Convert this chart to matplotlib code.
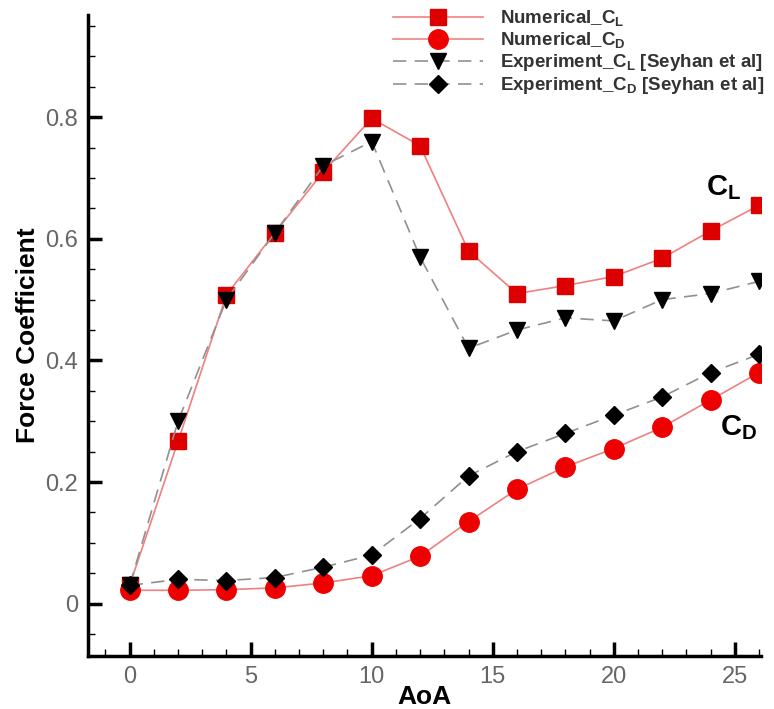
import matplotlib.pyplot as plt
import matplotlib.ticker as mticker

plt.rcParams['font.family'] = ['Liberation Sans', 'DejaVu Sans']
plt.rcParams['mathtext.fontset'] = 'custom'
plt.rcParams['mathtext.rm'] = 'Liberation Sans:bold'
plt.rcParams['mathtext.it'] = 'Liberation Sans:bold'
plt.rcParams['mathtext.bf'] = 'Liberation Sans:bold'

aoa = [0, 2, 4, 6, 8, 10, 12, 14, 16, 18, 20, 22, 24, 26]
num_cl = [0.03, 0.267, 0.508, 0.61, 0.71, 0.798, 0.753, 0.58, 0.51, 0.523, 0.538, 0.568, 0.613, 0.655]
num_cd = [0.022, 0.022, 0.023, 0.026, 0.034, 0.046, 0.078, 0.135, 0.188, 0.225, 0.255, 0.29, 0.335, 0.38]
exp_cl = [0.03, 0.30, 0.50, 0.61, 0.72, 0.76, 0.57, 0.42, 0.45, 0.47, 0.465, 0.50, 0.51, 0.53]
exp_cd = [0.03, 0.04, 0.038, 0.043, 0.06, 0.08, 0.14, 0.21, 0.25, 0.28, 0.31, 0.34, 0.38, 0.41]

fig = plt.figure(figsize=(7.74, 7.09), dpi=100)
ax = fig.add_axes([0.1137, 0.0748, 0.87, 0.904])

line_red = '#f08080'
line_grey = '#909090'

ax.plot(aoa, num_cl, '-', color=line_red, lw=1.2, marker='s', ms=11, mfc='#dd0000', mec='#dd0000',
        label=r'Numerical_C$_{\mathrm{L}}$', zorder=3)
ax.plot(aoa, num_cd, '-', color=line_red, lw=1.2, marker='o', ms=14, mfc='#ee0000', mec='#ee0000',
        label=r'Numerical_C$_{\mathrm{D}}$', zorder=3)
ax.plot(aoa, exp_cl, color=line_grey, lw=1.2, ls=(0, (8, 5)), marker='v', ms=11,
        mfc='black', mec='black', label=r'Experiment_C$_{\mathrm{L}}$ [Seyhan et al]', zorder=4)
ax.plot(aoa, exp_cd, color=line_grey, lw=1.2, ls=(0, (8, 5)), marker='D', ms=9,
        mfc='black', mec='black', label=r'Experiment_C$_{\mathrm{D}}$ [Seyhan et al]', zorder=4)

ax.set_xlim(-1.72, 26.1)
ax.set_ylim(-0.086, 0.968)

ax.spines['top'].set_visible(False)
ax.spines['right'].set_visible(False)
ax.spines['left'].set_linewidth(2.5)
ax.spines['bottom'].set_linewidth(2.5)

ax.xaxis.set_major_locator(mticker.MultipleLocator(5))
ax.xaxis.set_minor_locator(mticker.MultipleLocator(1))
ax.yaxis.set_major_locator(mticker.MultipleLocator(0.2))
ax.yaxis.set_minor_locator(mticker.MultipleLocator(0.05))
ax.yaxis.set_major_formatter(mticker.FuncFormatter(lambda v, p: '0' if abs(v) < 1e-9 else ('%.1f' % v)))

ax.tick_params(which='major', direction='in', length=10, width=2.5, labelsize=17, labelcolor='#666666', pad=7)
ax.tick_params(which='minor', direction='in', length=5, width=1)

ax.set_xlabel('AoA', fontsize=19, fontweight='bold', labelpad=-2)
ax.set_ylabel('Force Coefficient', fontsize=19, fontweight='bold', labelpad=4)

ax.text(23.8, 0.685, r'C$_{\mathrm{L}}$', fontsize=21, fontweight='bold', ha='left', va='center')
ax.text(24.4, 0.29, r'C$_{\mathrm{D}}$', fontsize=21, fontweight='bold', ha='left', va='center')

leg = fig.legend(loc='upper right', bbox_to_anchor=(772 / 774, 1 - 1 / 709), frameon=False, fontsize=13.5,
                 handlelength=4.8, handletextpad=0.9, labelspacing=0.1, borderaxespad=0.0)
for t in leg.get_texts():
    t.set_fontweight('bold')
    t.set_color('#333333')

fig.savefig('out.png', dpi=100)
